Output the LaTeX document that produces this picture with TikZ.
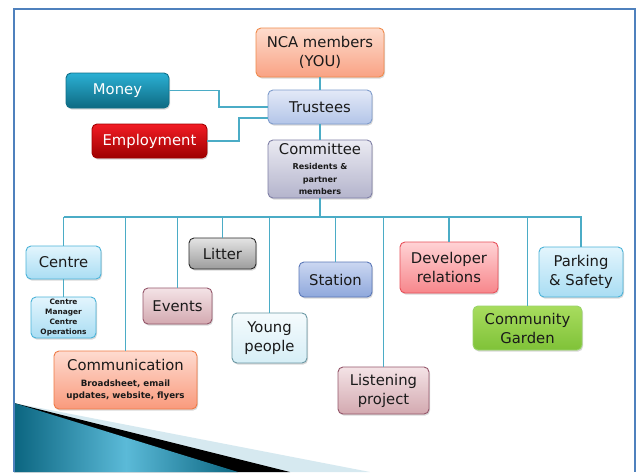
\documentclass[tikz,border=0pt]{standalone}
\usepackage{fontspec}
\setmainfont{DejaVu Sans}
\usetikzlibrary{shadows}
\definecolor{txt}{HTML}{1A1A1A}
\definecolor{link}{HTML}{4BACC6}
\definecolor{frame}{HTML}{4F81BD}
\definecolor{orT}{HTML}{FDDCCD}\definecolor{orB}{HTML}{F9A284}\definecolor{orD}{HTML}{F08A4B}
\definecolor{tlT}{HTML}{2BB0D4}\definecolor{tlB}{HTML}{0E6A82}\definecolor{tlD}{HTML}{0F6F88}
\definecolor{trT}{HTML}{E3E9F7}\definecolor{trB}{HTML}{B3C5E8}\definecolor{trD}{HTML}{7F9CCC}
\definecolor{rdT}{HTML}{F21C24}\definecolor{rdB}{HTML}{9E0000}\definecolor{rdD}{HTML}{A00000}
\definecolor{cmT}{HTML}{EAEAF2}\definecolor{cmB}{HTML}{B4B4CC}\definecolor{cmD}{HTML}{7F7FA6}
\definecolor{cbT}{HTML}{E3F5FD}\definecolor{cbB}{HTML}{A9DDF3}\definecolor{cbD}{HTML}{4BB3D8}
\definecolor{gyT}{HTML}{E4E4E4}\definecolor{gyB}{HTML}{9C9C9C}\definecolor{gyD}{HTML}{2A2A2A}
\definecolor{mvT}{HTML}{F4E3E6}\definecolor{mvB}{HTML}{D3A9B0}\definecolor{mvD}{HTML}{94566A}
\definecolor{ycT}{HTML}{F5FBFD}\definecolor{ycB}{HTML}{D6EEF6}\definecolor{ycD}{HTML}{6B98A4}
\definecolor{stT}{HTML}{CBD7F1}\definecolor{stB}{HTML}{8FA8DC}\definecolor{stD}{HTML}{5B78B8}
\definecolor{pkT}{HTML}{FFD3D5}\definecolor{pkB}{HTML}{F7868B}\definecolor{pkD}{HTML}{E8505A}
\definecolor{grT}{HTML}{A8DC5E}\definecolor{grB}{HTML}{7FC238}\definecolor{grD}{HTML}{9AD46A}
\definecolor{coT}{HTML}{FEDBD0}\definecolor{coB}{HTML}{F99A7C}\definecolor{coD}{HTML}{EF7A45}
\definecolor{swA}{HTML}{0B6580}\definecolor{swM}{HTML}{5BBAD8}\definecolor{swL}{HTML}{D6E9F0}
\newcommand{\subA}{\fontsize{8.1}{12.5}\selectfont\bfseries}
\newcommand{\subB}{\fontsize{8.7}{12}\selectfont\bfseries}
\begin{document}
\begin{tikzpicture}[x=1pt,y=-1pt,
  nbox/.style={draw, rounded corners=5pt, line width=0.9pt, align=center, inner sep=0pt,
     font=\fontsize{14.8}{19}\selectfont, text=txt,
     drop shadow={opacity=0.3,shadow xshift=1pt,shadow yshift=-1.6pt}},
  orS/.style={top color=orT, bottom color=orB, draw=orD},
  tlS/.style={top color=tlT, bottom color=tlB, draw=tlD, text=white},
  trS/.style={top color=trT, bottom color=trB, draw=trD},
  rdS/.style={top color=rdT, bottom color=rdB, draw=rdD, text=white},
  cmS/.style={top color=cmT, bottom color=cmB, draw=cmD},
  cbS/.style={top color=cbT, bottom color=cbB, draw=cbD},
  gyS/.style={top color=gyT, bottom color=gyB, draw=gyD},
  mvS/.style={top color=mvT, bottom color=mvB, draw=mvD},
  ycS/.style={top color=ycT, bottom color=ycB, draw=ycD},
  stS/.style={top color=stT, bottom color=stB, draw=stD},
  pkS/.style={top color=pkT, bottom color=pkB, draw=pkD},
  grS/.style={top color=grT, bottom color=grB, draw=grD},
  coS/.style={top color=coT, bottom color=coB, draw=coD},
  wire/.style={draw=link, line width=1.1pt},
  small/.style={font=\fontsize{7.4}{10.3}\selectfont\bfseries}
]
\useasboundingbox (0,0) rectangle (640,472);
\fill[white] (0,0) rectangle (640,472);
% bottom-left swoosh
\fill[swL] (14,403) -- (370,472) -- (14,472) -- cycle;
\fill[black] (14,403) -- (290,472) -- (14,472) -- cycle;
\shade[left color=swA, right color=swA, middle color=swM] (14,403) -- (238,472) -- (14,472) -- cycle;
% frame
\draw[frame, line width=1.6pt] (14,472) -- (14,9) -- (635,9) -- (635,472);

% nodes
\node[nbox, orS, minimum width=128pt, minimum height=49pt] (nca) at (320,52.5) {NCA members\\(YOU)};
\node[nbox, tlS, minimum width=103pt, minimum height=35pt] (money) at (117.5,90.5) {Money};
\node[nbox, trS, minimum width=104pt, minimum height=34pt] (trustees) at (320,107) {Trustees};
\node[nbox, rdS, minimum width=115pt, minimum height=34pt] (employment) at (149.5,141) {Employment};
\node[nbox, cmS, minimum width=104pt, minimum height=58pt, font=\fontsize{14.8}{12.5}\selectfont] (committee) at (320,169)
  {Committee\\[2.5pt]\subA Residents \&\\\subA partner\\\subA members};
\node[nbox, cbS, minimum width=75pt, minimum height=33pt] (centre) at (63.5,262.5) {Centre};
\node[nbox, cbS, small, minimum width=65pt, minimum height=41pt] (cmgr) at (63.5,317.5) {Centre\\Manager\\Centre\\Operations};
\node[nbox, gyS, minimum width=67pt, minimum height=31pt] (litter) at (222.5,253.5) {Litter};
\node[nbox, mvS, minimum width=69pt, minimum height=36pt] (events) at (177.5,306) {Events};
\node[nbox, ycS, minimum width=75pt, minimum height=50pt] (young) at (269.5,338) {Young\\people};
\node[nbox, coS, minimum width=143pt, minimum height=58pt, font=\fontsize{14.8}{12}\selectfont] (comm) at (125.5,380)
  {Communication\\[4pt]\subB Broadsheet, email\\\subB updates, website, flyers};
\node[nbox, stS, minimum width=73pt, minimum height=35pt] (station) at (335.5,279.5) {Station};
\node[nbox, mvS, minimum width=91pt, minimum height=47pt] (listen) at (383.5,390.5) {Listening\\project};
\node[nbox, pkS, minimum width=98pt, minimum height=51pt] (devrel) at (449,267.5) {Developer\\relations};
\node[nbox, cbS, minimum width=84pt, minimum height=50pt] (parking) at (581,272) {Parking\\\& Safety};
\node[nbox, grS, minimum width=109pt, minimum height=44pt] (garden) at (527.5,328) {Community\\Garden};

% connectors
\coordinate (mj) at (219,0);
\coordinate (ej) at (239,118);
\coordinate (busL) at (63.5,217);
\coordinate (busR) at (582,217);
\path[wire] (nca.south) -- (trustees.north);
\path[wire] (trustees.south) -- (committee.north);
\path[wire] (money.east) -| (mj |- trustees.west) -- (trustees.west);
\path[wire] (employment.east) -| (ej) -- (ej -| trustees.west);
\path[wire] (committee.south) -- (committee.south |- busL);
\path[wire] (busL) -- (busR);
\foreach \n in {centre,comm,events,litter,young,station,listen,devrel,garden,parking}
  \path[wire] (\n.north |- busL) -- (\n.north);
\path[wire] (centre.south) -- (cmgr.north);
\end{tikzpicture}
\end{document}
